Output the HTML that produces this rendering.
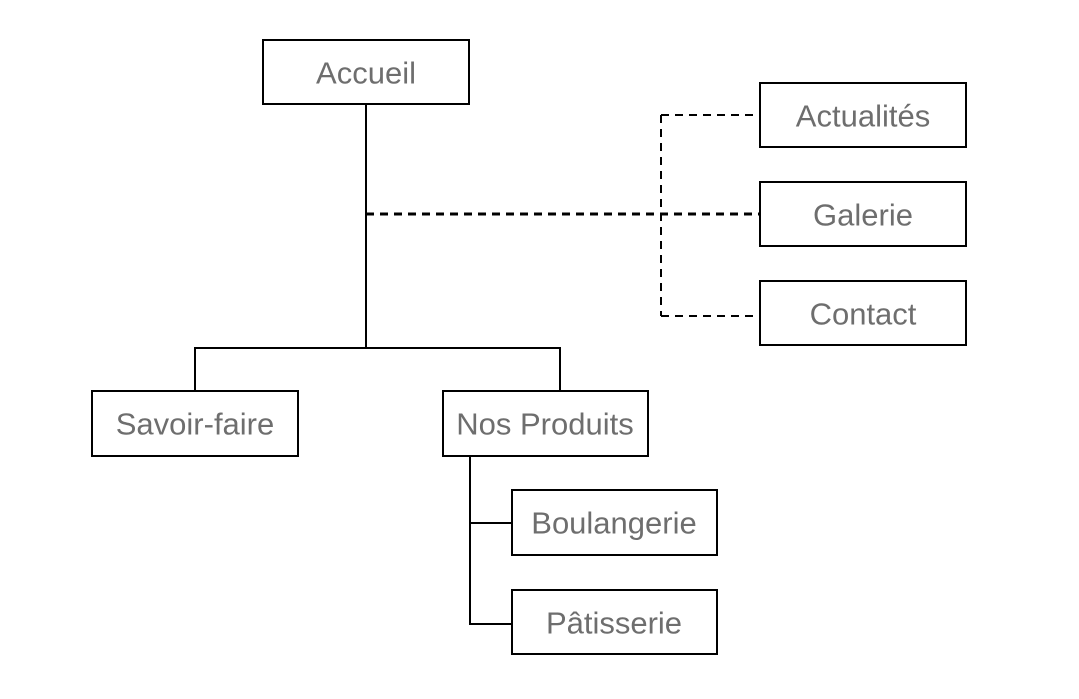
<!DOCTYPE html>
<html><head><meta charset="utf-8"><style>
html,body{margin:0;padding:0;background:#fff;}
svg{display:block}
text{font-family:"Liberation Sans",Arial,sans-serif;font-size:31px;fill:#6e6e6e;text-anchor:middle;dominant-baseline:central}
rect{fill:#fff;stroke:#000;stroke-width:2}
</style></head><body>
<svg width="1079" height="699" viewBox="0 0 1079 699">
<g stroke="#000" stroke-width="2" fill="none">
<line x1="366" y1="104" x2="366" y2="348"/>
<line x1="195" y1="348" x2="560" y2="348"/>
<line x1="195" y1="347" x2="195" y2="391"/>
<line x1="560" y1="347" x2="560" y2="391"/>
<line x1="470" y1="456" x2="470" y2="624"/>
<line x1="469" y1="523" x2="512" y2="523"/>
<line x1="469" y1="624" x2="512" y2="624"/>
</g>
<g stroke="#000" fill="none" stroke-dasharray="8,6">
<line x1="366" y1="214" x2="760" y2="214" stroke-width="3"/>
<line x1="661" y1="115" x2="661" y2="316" stroke-width="2"/>
<line x1="661" y1="115" x2="760" y2="115" stroke-width="2"/>
<line x1="661" y1="316" x2="760" y2="316" stroke-width="2"/>
</g>
<rect x="263" y="40" width="206" height="64"/><text x="366" y="73">Accueil</text>
<rect x="760" y="83" width="206" height="64"/><text x="863" y="116">Actualités</text>
<rect x="760" y="182" width="206" height="64"/><text x="863" y="215">Galerie</text>
<rect x="760" y="281" width="206" height="64"/><text x="863" y="314">Contact</text>
<rect x="92" y="391" width="206" height="65"/><text x="195" y="424">Savoir-faire</text>
<rect x="443" y="391" width="205" height="65"/><text x="545" y="424">Nos Produits</text>
<rect x="512" y="490" width="205" height="65"/><text x="614" y="523">Boulangerie</text>
<rect x="512" y="590" width="205" height="64"/><text x="614" y="623">Pâtisserie</text>
</svg>
</body></html>
